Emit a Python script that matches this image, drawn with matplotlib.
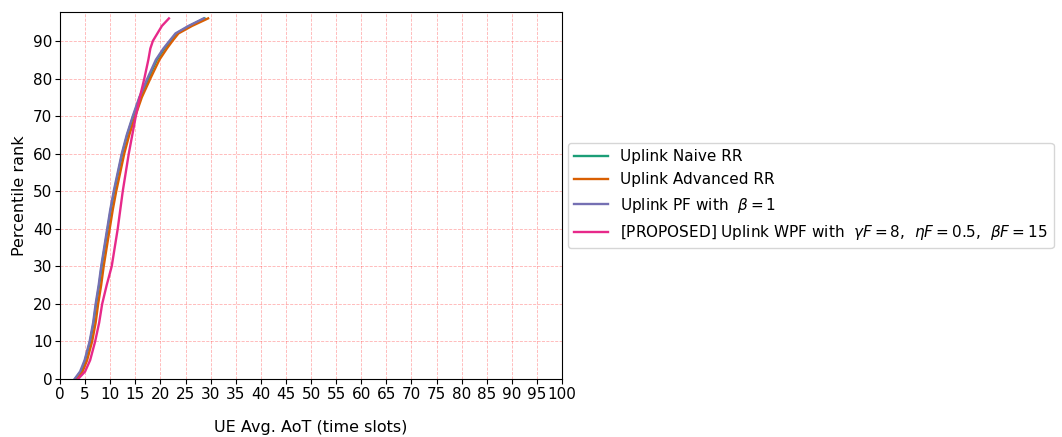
import numpy as np
import matplotlib
matplotlib.use('Agg')
import matplotlib.pyplot as plt

# percentile ranks (y) and AoT values (x)
pct = [0, 2, 5, 10, 15, 20, 25, 30, 35, 40, 45, 50, 55, 60, 65, 70, 75, 80, 85, 88, 90, 92, 94, 96]

naive_rr = [3.0, 4.2, 5.0, 6.0, 6.7, 7.2, 7.8, 8.3, 8.9, 9.5, 10.1, 10.8, 11.6, 12.4, 13.4, 14.6, 15.9,
            17.6, 19.3, 20.8, 22.0, 23.2, 25.8, 28.8]
adv_rr = [3.2, 4.5, 5.4, 6.4, 7.1, 7.6, 8.2, 8.7, 9.3, 9.9, 10.5, 11.2, 12.0, 12.8, 13.8, 15.0, 16.3,
          18.0, 19.8, 21.3, 22.4, 23.6, 26.3, 29.5]
pf = [2.9, 4.0, 4.9, 5.9, 6.6, 7.1, 7.7, 8.2, 8.8, 9.4, 10.0, 10.7, 11.5, 12.3, 13.3, 14.5, 15.8,
      17.4, 19.1, 20.6, 21.8, 23.0, 25.6, 28.6]
wpf = [3.6, 5.0, 6.0, 7.0, 7.8, 8.4, 9.3, 10.3, 10.9, 11.5, 12.0, 12.5, 13.1, 13.7, 14.4, 15.1, 15.9,
       16.8, 17.6, 18.0, 18.5, 19.4, 20.3, 21.7]

labels = ['Uplink Naive RR',
          'Uplink Advanced RR',
          r'Uplink PF with  $\beta = 1$',
          r'[PROPOSED] Uplink WPF with  $\gamma F = 8$,  $\eta F = 0.5$,  $\beta F = 15$']
colors = ['#1b9e77', '#d95f02', '#7570b3', '#e7298a']

fig = plt.figure(figsize=(10.62, 4.37), dpi=100)
ax = fig.add_axes([0.0565, 0.1327, 0.4727, 0.8398])

for xs, lab, c in zip([naive_rr, adv_rr, pf, wpf], labels, colors):
    ax.plot(xs, pct, color=c, label=lab, linewidth=1.7)

ax.set_xlim(0, 100)
ax.set_ylim(0, 97.7)
ax.set_xticks(np.arange(0, 101, 5))
ax.set_yticks(np.arange(0, 91, 10))
ax.tick_params(labelsize=11, pad=2)
ax.grid(True, color='red', linestyle='--', linewidth=0.6, alpha=0.3)
ax.set_xlabel('UE Avg. AoT (time slots)', fontsize=11.5, labelpad=13)
ax.set_ylabel('Percentile rank', fontsize=11.5, labelpad=4)

ax.legend(loc='center left', bbox_to_anchor=(1.0, 0.5), fontsize=11, labelspacing=0.55,
          borderaxespad=0.4, handlelength=2.2)

fig.savefig('out.png', dpi=100)
